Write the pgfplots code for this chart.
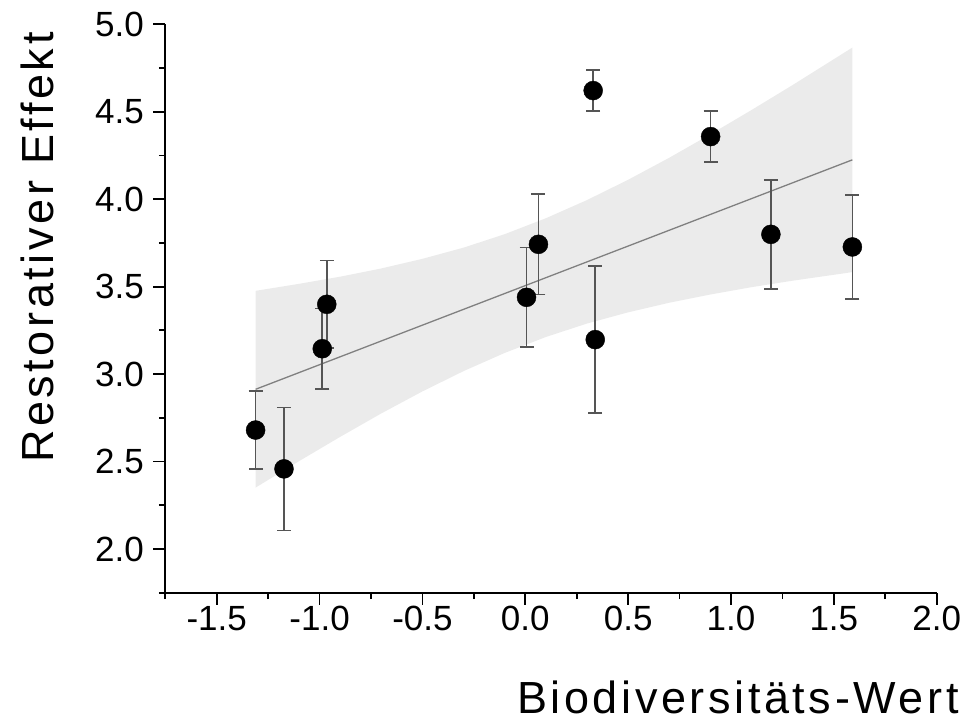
\documentclass[border=0pt]{standalone}
\usepackage{fontspec}
\setmainfont{Liberation Sans}
\newfontfamily\labelfont[LetterSpace=8]{Liberation Sans}
\usepackage{pgfplots}
\pgfplotsset{compat=1.18}
\definecolor{band}{HTML}{EBEBEB}
\definecolor{fitline}{HTML}{808080}
\definecolor{errgray}{HTML}{555555}
\begin{document}
\begin{tikzpicture}
\path[use as bounding box] (-165.3pt,-133.3pt) rectangle (804.7pt,592.7pt);
\begin{axis}[
  at={(0,0)}, anchor=south west,
  scale only axis, width=771.4pt, height=568.4pt,
  xmin=-1.75, xmax=2.0, ymin=1.75, ymax=5.0,
  axis x line*=bottom, axis y line*=left,
  axis line style={line width=2pt},
  xtick={-1.5,-1,...,2}, ytick={2,2.5,...,5},
  minor xtick={-1.75,-1.25,...,1.75}, minor ytick={1.75,2.25,...,4.75},
  tick align=outside,
  major tick length=12pt, minor tick length=6.5pt,
  every tick/.style={line width=1.8pt, black},
  ticklabel style={font=\fontsize{35}{40}\selectfont},
  yticklabel style={xshift=-6pt},
  xticklabel style={yshift=2pt},
  /pgf/number format/assume math mode=true,
  xticklabel={\pgfmathprintnumber[fixed, fixed zerofill, precision=1]{\tick}},
  yticklabel={\pgfmathprintnumber[fixed, fixed zerofill, precision=1]{\tick}},
  xlabel={Biodiversitäts-Wert},
  xlabel style={at={(axis description cs:1.033,-0.2134)}, anchor=base east, font=\labelfont\fontsize{45}{52}\selectfont},
  ylabel={Restorativer Effekt},
  ylabel style={at={(axis description cs:-0.145,0.607)}, anchor=base, font=\labelfont\fontsize{45}{52}\selectfont},
]
% confidence band
\addplot[fill=band, draw=none] coordinates {
  (-1.311,3.476) (-1.1,3.516) (-0.9,3.557) (-0.7,3.604) (-0.5,3.659)
  (-0.3,3.723) (-0.1,3.800) (0.1,3.891) (0.3,3.995) (0.5,4.111)
  (0.7,4.237) (0.9,4.371) (1.1,4.510) (1.3,4.653) (1.59,4.867)
  (1.59,3.583) (1.3,3.534) (1.1,3.497) (0.9,3.455) (0.7,3.408)
  (0.5,3.353) (0.3,3.289) (0.1,3.212) (-0.1,3.121) (-0.3,3.017)
  (-0.5,2.901) (-0.7,2.775) (-0.9,2.641) (-1.1,2.502) (-1.311,2.351)
} -- cycle;
% regression line
\addplot[fitline, line width=1.3pt] coordinates {(-1.311,2.913) (1.590,4.225)};
% means with error bars
\addplot[only marks, mark=*, mark size=9.5pt, black,
  error bars/.cd, y dir=both, y explicit,
  error bar style={line width=1.6pt, errgray},
  error mark options={rotate=90, mark size=7pt, line width=1.6pt, errgray}]
  table[x=x, y=y, y error=e] {
  x      y      e
  -1.311 2.680  0.224
  -1.173 2.458  0.352
  -0.987 3.145  0.230
  -0.965 3.399  0.250
  0.006  3.439  0.284
  0.064  3.742  0.288
  0.330  4.621  0.116
  0.340  3.197  0.420
  0.901  4.358  0.147
  1.194  3.799  0.312
  1.590  3.727  0.296
};
\end{axis}
\end{tikzpicture}
\end{document}
